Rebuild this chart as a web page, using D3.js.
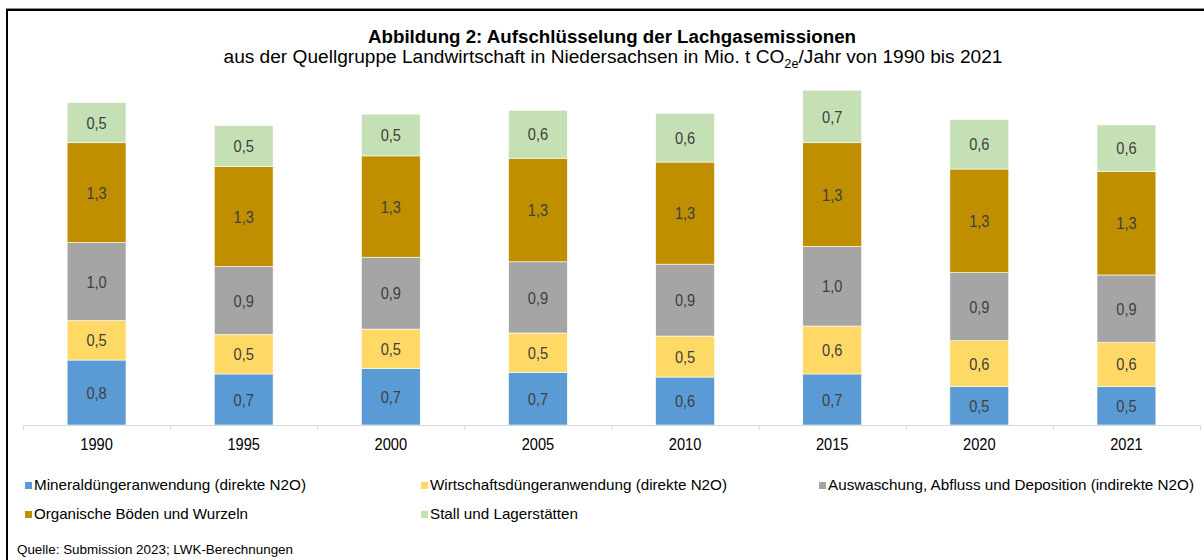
<!DOCTYPE html>
<html>
<head>
<meta charset="utf-8">
<script src="https://cdn.jsdelivr.net/npm/d3@7"></script>
<style>
    body { margin: 0; background: #fff; }
    svg { display: block; font-family: "Liberation Sans", Arial, sans-serif; }
</style>
</head>
<body>
<main></main>
<script>
// Data
const years = ['1990', '1995', '2000', '2005', '2010', '2015', '2020', '2021']
const seriesNames = [
    'Mineraldüngeranwendung (direkte N2O)',
    'Wirtschaftsdüngeranwendung (direkte N2O)',
    'Auswaschung, Abfluss und Deposition (indirekte N2O)',
    'Organische Böden und Wurzeln',
    'Stall und Lagerstätten'
]
const mineral = [0.84, 0.66, 0.73, 0.68, 0.62, 0.66, 0.50, 0.50]
const wirtschaft = [0.51, 0.51, 0.51, 0.51, 0.53, 0.62, 0.59, 0.57]
const auswaschung = [1.01, 0.88, 0.93, 0.92, 0.93, 1.03, 0.88, 0.87]
const organisch = [1.29, 1.29, 1.31, 1.34, 1.32, 1.34, 1.34, 1.34]
const stall = [0.52, 0.53, 0.54, 0.62, 0.63, 0.68, 0.64, 0.60]
const colors = ['#5b9bd5', '#ffd966', '#a5a5a5', '#bf8f00', '#c5e0b4']

function GeneratePlot() {
    // Configuration
    const width = 1204
    const height = 560
    const baseline = 425
    const plotTop = 77
    const squeeze = 0.86

    const svg = d3.select('main')
        .append('svg')
        .attr('width', width)
        .attr('height', height)

    // squash text horizontally like the source picture
    const narrow = (selection, k = squeeze) => selection.each(function () {
        const w = this.getComputedTextLength()
        d3.select(this)
            .attr('textLength', w * k)
            .attr('lengthAdjust', 'spacingAndGlyphs')
    })

    // Frame
    svg.append('line')
        .attr('x1', 6).attr('x2', width)
        .attr('y1', 8.5).attr('y2', 8.5)
        .attr('stroke', '#8c8c8c')
    svg.append('path')
        .attr('d', `M7,${height} V10 H${width}`)
        .attr('fill', 'none')
        .attr('stroke', '#000')
        .attr('stroke-width', 2)

    // Titles
    svg.append('text')
        .attr('x', 612)
        .attr('y', 43)
        .attr('text-anchor', 'middle')
        .attr('font-weight', 'bold')
        .attr('font-size', 18)
        .attr('fill', '#000')
        .attr('textLength', 488)
        .attr('lengthAdjust', 'spacingAndGlyphs')
        .text('Abbildung 2: Aufschlüsselung der Lachgasemissionen')

    const sub = svg.append('text')
        .attr('x', 613)
        .attr('y', 63)
        .attr('text-anchor', 'middle')
        .attr('font-size', 18)
        .attr('fill', '#000')
        .attr('textLength', 779)
        .attr('lengthAdjust', 'spacingAndGlyphs')
    sub.append('tspan').text('aus der Quellgruppe Landwirtschaft in Niedersachsen in Mio. t CO')
    sub.append('tspan').attr('font-size', 12).attr('dy', 5).text('2e')
    sub.append('tspan').attr('dy', -5).text('/Jahr von 1990 bis 2021')

    // Scales
    const x = d3.scaleBand()
        .domain(years)
        .range([23, 1200])
        .paddingInner(0.6)
        .paddingOuter(0.3)
    const y = d3.scaleLinear()
        .domain([0, 4.5])
        .range([baseline, plotTop])

    const table = years.map((year, i) => ({
        year,
        s0: mineral[i],
        s1: wirtschaft[i],
        s2: auswaschung[i],
        s3: organisch[i],
        s4: stall[i]
    }))
    const stacked = d3.stack().keys(['s0', 's1', 's2', 's3', 's4'])(table)

    // Bars
    const layers = svg.append('g')
        .selectAll('g')
        .data(stacked)
        .join('g')
        .attr('fill', (d, i) => colors[i])

    layers.selectAll('rect')
        .data(d => d)
        .join('rect')
        .attr('x', d => x(d.data.year))
        .attr('width', x.bandwidth())
        .attr('y', d => y(d[1]))
        .attr('height', d => y(d[0]) - y(d[1]))
        .attr('stroke', '#fff')
        .attr('stroke-width', 0.6)

    const fmt = v => v.toFixed(1).replace('.', ',')
    layers.selectAll('text')
        .data(d => d)
        .join('text')
        .attr('x', d => x(d.data.year) + x.bandwidth() / 2)
        .attr('y', d => (y(d[0]) + y(d[1])) / 2)
        .attr('dy', '0.36em')
        .attr('text-anchor', 'middle')
        .attr('font-size', 17)
        .attr('fill', '#404040')
        .text(d => fmt(d[1] - d[0]))
        .call(narrow)

    // Axis
    const axis = svg.append('g')
    const [x0, x1] = x.range()
    axis.append('line')
        .attr('x1', x0).attr('x2', x1)
        .attr('y1', baseline + 0.5).attr('y2', baseline + 0.5)
        .attr('stroke', '#d9d9d9')
    axis.selectAll('.tick')
        .data(d3.range(years.length + 1))
        .join('line')
        .attr('class', 'tick')
        .attr('x1', i => x0 + i * x.step() + 0.5)
        .attr('x2', i => x0 + i * x.step() + 0.5)
        .attr('y1', baseline)
        .attr('y2', baseline + 5)
        .attr('stroke', '#d9d9d9')
    axis.selectAll('.label')
        .data(years)
        .join('text')
        .attr('class', 'label')
        .attr('x', d => x(d) + x.bandwidth() / 2)
        .attr('y', 450)
        .attr('text-anchor', 'middle')
        .attr('font-size', 17)
        .attr('fill', '#000')
        .text(d => d)
        .call(narrow)

    // Legend
    const legendPos = [[25, 490], [421, 490], [819, 490], [25, 519], [421, 519]]
    const legendWidth = [272, 297, 366, 214, 148]
    const legend = svg.append('g')
        .selectAll('g')
        .data(seriesNames)
        .join('g')
        .attr('transform', (d, i) => `translate(${legendPos[i][0]},${legendPos[i][1]})`)
    legend.append('rect')
        .attr('x', 0)
        .attr('y', -8)
        .attr('width', 7)
        .attr('height', 7)
        .attr('fill', (d, i) => colors[i])
    legend.append('text')
        .attr('x', 9)
        .attr('y', 0)
        .attr('font-size', 15)
        .attr('fill', '#000')
        .attr('textLength', (d, i) => legendWidth[i])
        .attr('lengthAdjust', 'spacingAndGlyphs')
        .text(d => d)

    // Source
    svg.append('text')
        .attr('x', 17)
        .attr('y', 554)
        .attr('font-size', 12)
        .attr('fill', '#000')
        .attr('textLength', 276)
        .attr('lengthAdjust', 'spacingAndGlyphs')
        .text('Quelle: Submission 2023; LWK-Berechnungen')
}

GeneratePlot()
</script>
</body>
</html>
